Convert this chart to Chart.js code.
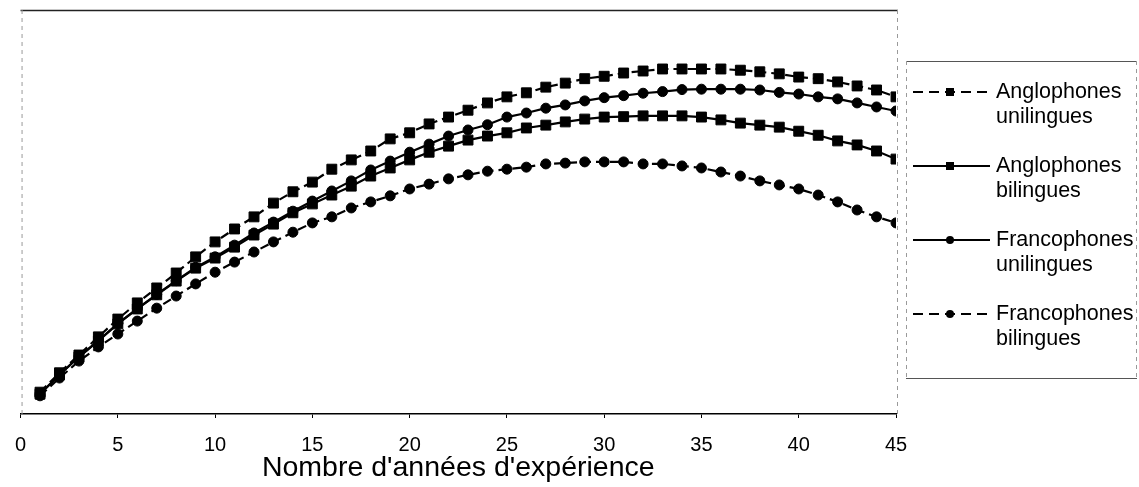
<!DOCTYPE html>
<html>
<head>
<meta charset="utf-8">
<script src="https://cdn.jsdelivr.net/npm/chart.js@4/dist/chart.umd.min.js"></script>
<style>
  html, body { margin: 0; padding: 0; background: #fff; }
  #wrap { width: 1139px; height: 487px; }
</style>
</head>
<body>
<div id="wrap"><canvas id="c" width="1139" height="487"></canvas></div>
<script>
// Years of experience (x categories)
const years = [1,2,3,4,5,6,7,8,9,10,11,12,13,14,15,16,17,18,19,20,21,22,23,24,25,26,27,28,29,30,31,32,33,34,35,36,37,38,39,40,41,42,43,44,45];
const xTicks = [0,5,10,15,20,25,30,35,40,45];

// Series values (relative index)
const anglophonesUnilingues = [5.4,10.2,14.6,19.1,23.5,27.5,31.2,34.9,38.9,42.6,45.8,48.8,52.2,55.0,57.4,60.6,62.9,65.1,68.1,69.6,71.8,73.5,75.2,77.0,78.5,79.5,80.9,81.9,83.0,83.6,84.4,84.9,85.4,85.4,85.4,85.4,85.1,84.7,84.2,83.4,83.0,82.2,81.2,80.2,78.5];
const anglophonesBilingues = [4.9,9.7,14.1,18.1,22.3,26.0,29.5,32.9,36.1,38.6,41.3,44.3,47.0,49.8,52.0,54.2,56.4,58.9,60.9,62.9,64.8,66.3,67.8,68.8,69.6,70.8,71.5,72.3,73.0,73.5,73.6,73.8,73.8,73.8,73.5,72.8,72.0,71.5,71.0,70.0,69.0,67.6,66.6,65.1,63.1];
const francophonesUnilingues = [5.0,9.7,14.2,18.2,22.4,26.1,29.6,33.0,36.3,38.9,41.8,44.8,47.5,50.2,52.7,55.2,57.7,60.4,62.6,64.8,66.8,68.8,70.3,71.6,73.5,74.5,75.7,76.5,77.5,78.3,78.8,79.4,79.8,80.3,80.4,80.4,80.4,80.2,79.6,79.2,78.5,78.0,77.0,76.0,75.0];
const francophonesBilingues = [4.5,8.9,13.1,16.6,19.8,23.0,26.2,29.2,32.2,35.1,37.6,40.1,42.6,45.0,47.3,48.8,51.0,52.5,54.0,55.7,56.9,58.2,59.2,60.1,60.6,61.1,61.9,62.1,62.4,62.4,62.4,61.9,61.9,61.4,60.9,59.9,58.9,57.7,56.7,55.7,54.2,52.5,50.5,48.8,47.3];

const seriesLabels = [
  ['Anglophones', 'unilingues'],
  ['Anglophones', 'bilingues'],
  ['Francophones', 'unilingues'],
  ['Francophones', 'bilingues']
];
const xTitle = "Nombre d'années d'expérience";

const FONT = "'Liberation Sans', Arial, sans-serif";
const pts = arr => arr.map((v, i) => ({ x: years[i], y: v }));

function ds(label, values, dashed, shape) {
  return {
    label: label,
    data: pts(values),
    borderColor: '#000',
    backgroundColor: '#000',
    borderWidth: 2.2,
    borderDash: dashed ? [9, 5] : [],
    pointStyle: shape,
    pointRadius: shape === 'rect' ? 7 : 5,
    pointBorderWidth: 1,
    pointBackgroundColor: '#000',
    pointBorderColor: '#000',
    tension: 0,
    fill: false,
    _dashed: dashed
  };
}

const datasets = [
  ds(seriesLabels[0], anglophonesUnilingues, true, 'rect'),
  ds(seriesLabels[1], anglophonesBilingues, false, 'rect'),
  ds(seriesLabels[2], francophonesUnilingues, false, 'circle'),
  ds(seriesLabels[3], francophonesBilingues, true, 'circle')
];

const framePlugin = {
  id: 'frame',
  afterDraw(chart) {
    const { ctx, chartArea: a } = chart;
    ctx.save();
    // top border
    ctx.strokeStyle = '#222';
    ctx.lineWidth = 1.5;
    ctx.beginPath();
    ctx.moveTo(a.left, a.top + 0.5);
    ctx.lineTo(a.right + 2, a.top + 0.5);
    ctx.stroke();
    // left / right faint dashed borders
    ctx.strokeStyle = '#9a9a9a';
    ctx.lineWidth = 1;
    ctx.setLineDash([4, 4]);
    ctx.beginPath();
    ctx.moveTo(a.left + 1.5, a.top);
    ctx.lineTo(a.left + 1.5, a.bottom);
    ctx.moveTo(a.right + 1.5, a.top);
    ctx.lineTo(a.right + 1.5, a.bottom);
    ctx.stroke();
    ctx.setLineDash([]);

    // custom legend
    const bx = 906, by = 61, bw = 231, bh = 317;
    ctx.strokeStyle = '#555';
    ctx.lineWidth = 1;
    ctx.beginPath();
    ctx.moveTo(bx, by + 0.5); ctx.lineTo(bx + bw, by + 0.5);
    ctx.moveTo(bx, by + bh + 0.5); ctx.lineTo(bx + bw, by + bh + 0.5);
    ctx.stroke();
    ctx.strokeStyle = '#9a9a9a';
    ctx.setLineDash([4, 4]);
    ctx.beginPath();
    ctx.moveTo(bx + 0.5, by); ctx.lineTo(bx + 0.5, by + bh);
    ctx.moveTo(bx + bw - 0.5, by); ctx.lineTo(bx + bw - 0.5, by + bh);
    ctx.stroke();
    ctx.setLineDash([]);

    ctx.font = '21.5px ' + FONT;
    ctx.fillStyle = '#000';
    ctx.textBaseline = 'middle';
    ctx.textAlign = 'left';
    chart.data.datasets.forEach((d, i) => {
      const y = 92 + i * 74;
      const x0 = 913, x1 = 990, xm = 950;
      ctx.strokeStyle = '#000';
      ctx.lineWidth = 2;
      ctx.setLineDash(d._dashed ? [10, 6] : []);
      ctx.beginPath();
      ctx.moveTo(x0, y); ctx.lineTo(x1, y);
      ctx.stroke();
      ctx.setLineDash([]);
      ctx.fillStyle = '#000';
      if (d.pointStyle === 'rect') {
        ctx.fillRect(xm - 4, y - 4, 8, 8);
      } else {
        ctx.beginPath();
        ctx.arc(xm, y, 4, 0, Math.PI * 2);
        ctx.fill();
      }
      const lines = d.label;
      lines.forEach((t, k) => ctx.fillText(t, 996, y + k * 25));
    });
    ctx.restore();
  }
};

new Chart(document.getElementById('c'), {
  type: 'line',
  data: { datasets: datasets },
  options: {
    responsive: false,
    animation: false,
    devicePixelRatio: 1,
    layout: { padding: { left: 16, right: 243, top: 10, bottom: 0 } },
    plugins: { legend: { display: false }, tooltip: { enabled: false } },
    scales: {
      x: {
        type: 'linear',
        min: 0,
        max: 45,
        afterBuildTicks: s => { s.ticks = xTicks.map(v => ({ value: v })); },
        afterFit: s => { s.height = 73; },
        grid: { drawOnChartArea: false, drawTicks: true, tickLength: 4, color: '#000' },
        border: { display: true, color: '#000', width: 1.5 },
        ticks: { color: '#000', font: { family: FONT, size: 20 }, padding: 15, maxRotation: 0 },
        title: { display: true, text: xTitle, color: '#000', font: { family: FONT, size: 28.5 }, padding: { top: 0, bottom: 2 } }
      },
      y: {
        display: false,
        min: 0,
        max: 100
      }
    }
  },
  plugins: [framePlugin]
});
</script>
</body>
</html>
